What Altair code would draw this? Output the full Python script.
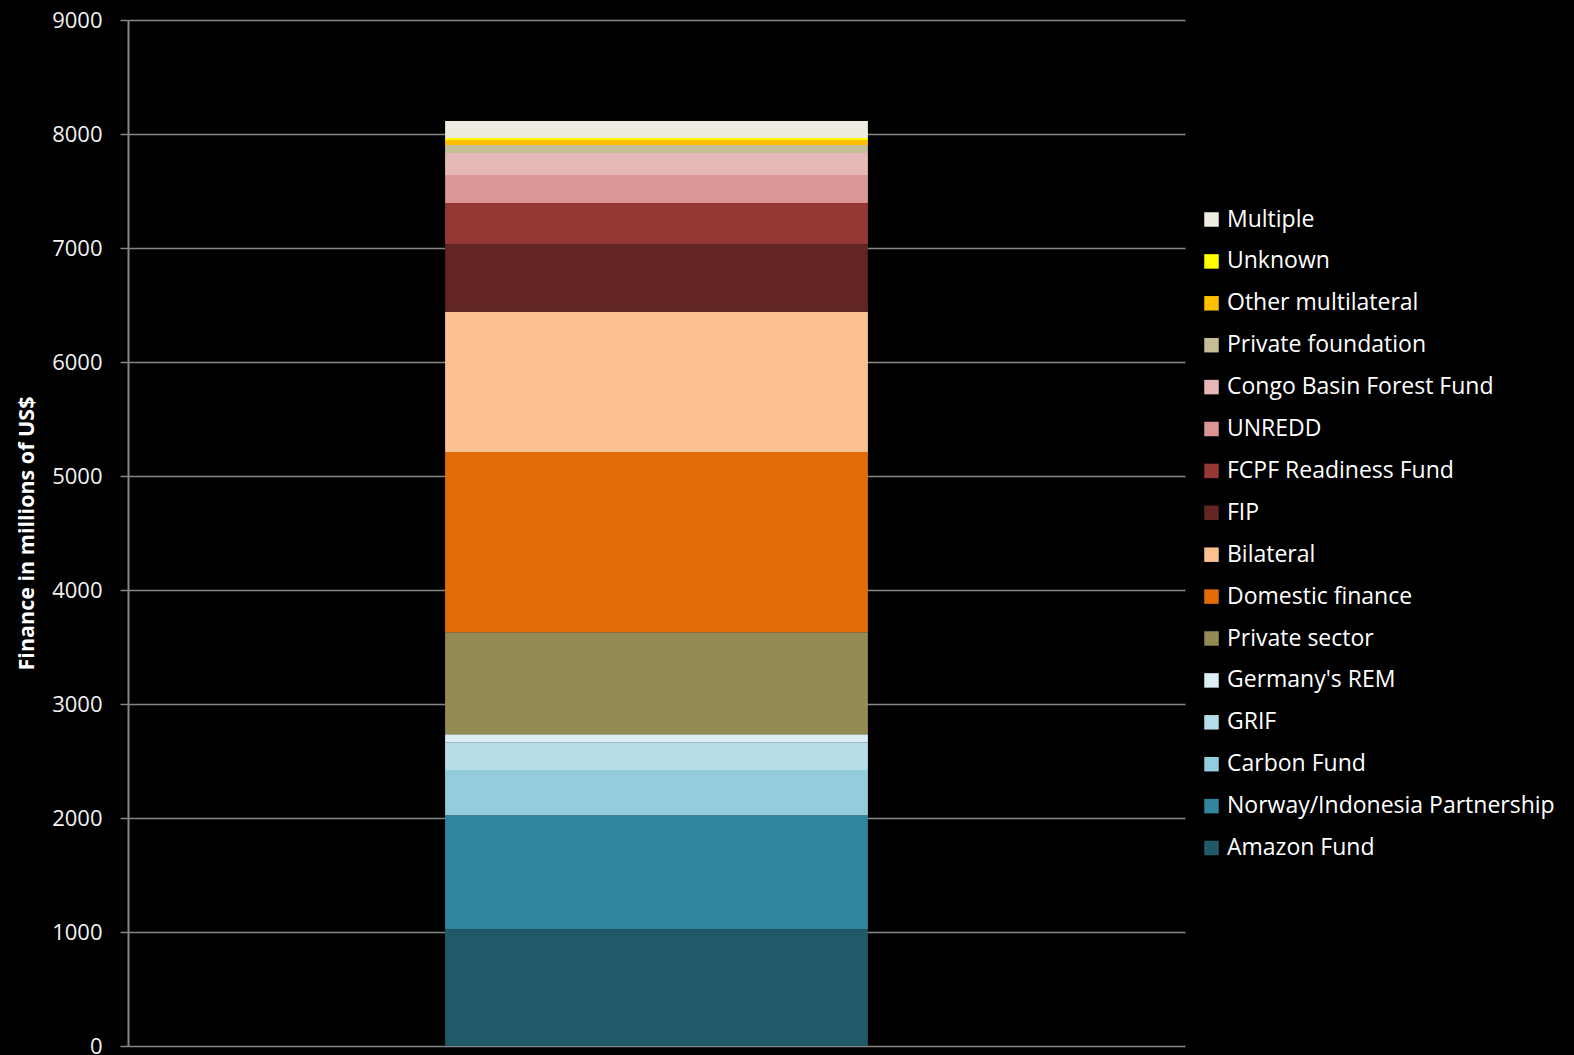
import altair as alt
import pandas as pd

# Sources from bottom of the stack to top
sources = ["Amazon Fund", "Norway/Indonesia Partnership", "Carbon Fund", "GRIF",
           "Germany's REM", "Private sector", "Domestic finance", "Bilateral", "FIP",
           "FCPF Readiness Fund", "UNREDD", "Congo Basin Forest Fund",
           "Private foundation", "Other multilateral", "Unknown", "Multiple"]
values = [1024, 1001, 395, 245, 70, 895, 1580, 1231, 594, 359, 246, 193, 70, 44, 18, 149]
colors = ["#215968", "#31859C", "#93CDDD", "#B7DEE8", "#DBEEF4", "#948A54", "#E36C09",
          "#FAC08F", "#632523", "#953735", "#D99694", "#E6B9B8", "#C4BD97", "#FFC000",
          "#FFFF00", "#EEECE1"]
y_ticks = [0, 1000, 2000, 3000, 4000, 5000, 6000, 7000, 8000, 9000]

df = pd.DataFrame({"source": sources, "value": values, "idx": list(range(len(sources))),
                   "cat": ["all"] * len(sources)})

legend_order = sources[::-1]
legend_colors = colors[::-1]

FONT = "Open Sans"

bars = alt.Chart(df).mark_bar(strokeWidth=0).encode(
    x=alt.X("cat:N", axis=None, scale=alt.Scale(paddingInner=0, paddingOuter=0.75)),
    y=alt.Y("sum(value):Q", stack="zero",
            scale=alt.Scale(domain=[0, 9000], nice=False),
            axis=alt.Axis(values=y_ticks, format="d", title="Finance in millions of US$",
                          labelFontSize=22, labelColor="#F2F2F2", labelFont=FONT,
                          labelPadding=18, tickSize=8, tickColor="#868686", tickWidth=1.5,
                          domainColor="#868686", domainWidth=2,
                          gridColor="#868686", gridWidth=1.5,
                          titleFont=FONT, titleFontSize=21.5, titleFontWeight="bold",
                          titleColor="#FFFFFF", titlePadding=13)),
    color=alt.Color("source:N",
                    scale=alt.Scale(domain=legend_order, range=legend_colors),
                    legend=alt.Legend(title=None, orient="none", legendX=1072, legendY=188,
                                      symbolType="square", symbolSize=210,
                                      symbolStrokeWidth=0, labelFontSize=23,
                                      labelFont=FONT, labelColor="#FFFFFF",
                                      labelOffset=4, rowPadding=17.9, labelLimit=500)),
    order=alt.Order("idx:Q", sort="ascending"),
)

chart = bars.properties(
    width=1057, height=1026,
    autosize=alt.AutoSizeParams(type="none"),
    padding={"left": 128, "top": 20, "right": 389, "bottom": 9},
    background="#000000",
).configure_view(stroke=None)

chart.save("out.html", embed_options={"renderer": "svg", "actions": False})
